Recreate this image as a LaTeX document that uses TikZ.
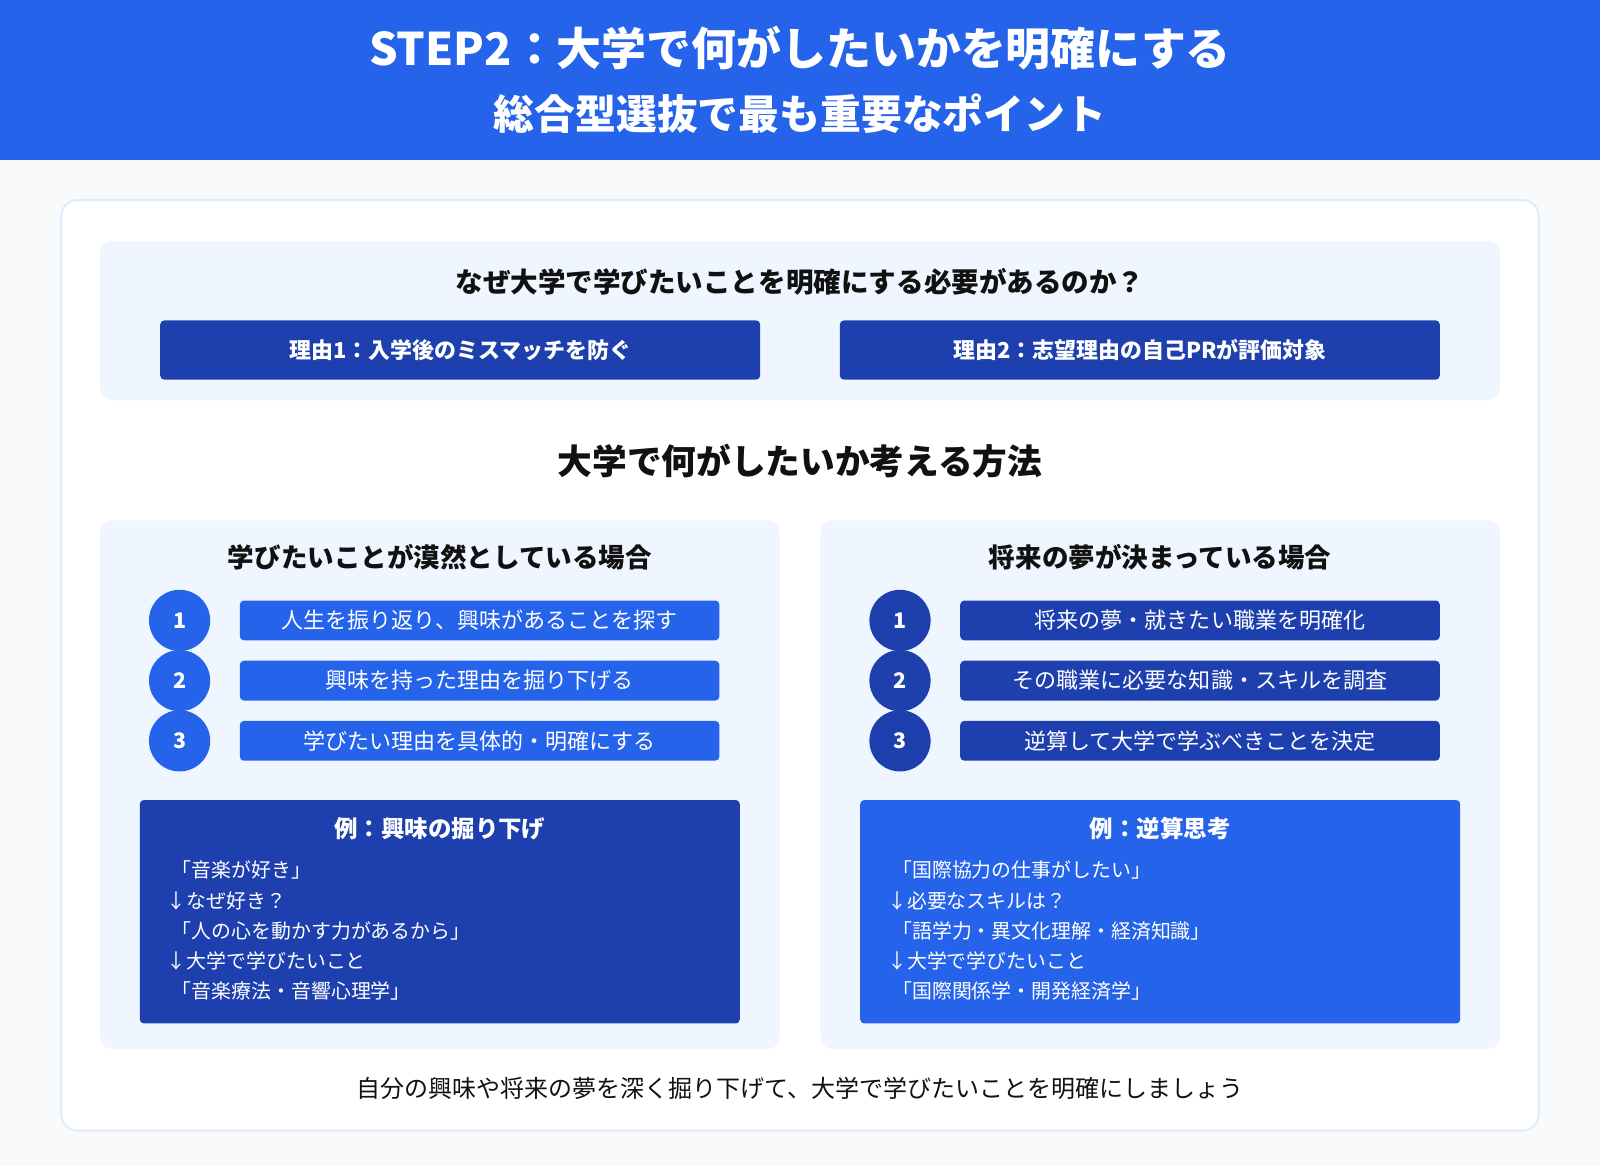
\documentclass[tikz,border=0pt]{standalone}
\usepackage{fontspec}
\setmainfont{Noto Sans CJK JP}
\definecolor{hdr}{HTML}{2563EB}
\definecolor{dk}{HTML}{1E40AF}
\definecolor{pale}{HTML}{EFF6FF}
\definecolor{bg}{HTML}{F8FAFC}
\definecolor{brd}{HTML}{E0ECFB}
\definecolor{txt}{HTML}{111111}
\tikzset{
 fs/.style={font=\fontsize{#1}{#1}\selectfont},
 fsb/.style={font=\fontsize{#1}{#1}\selectfont\bfseries},
 panel/.style={fill=pale,rounded corners=12pt,draw=none},
 bar/.style={fill=#1,rounded corners=4pt,draw=none},
 num/.style={circle,fill=#1,minimum size=60pt,inner sep=0pt,text=white,font=\fontsize{21}{21}\selectfont\bfseries},
 bartxt/.style={text=white,fs=21.6},
 ex/.style={text=white,fs=19.5,anchor=west},
}
\begin{document}
\begin{tikzpicture}[x=1pt,y=-1pt]
\useasboundingbox (0,0) rectangle (1568,1143);
\fill[bg] (0,0) rectangle (1568,1143);
\fill[hdr] (0,0) rectangle (1568,157);
\node[text=white,fsb=44] (t1) at (784,47) {STEP2：大学で何がしたいかを明確にする};
\node[text=white,fsb=40] (t2) at (784,111) {総合型選抜で最も重要なポイント};
\draw[brd,line width=2pt,fill=white,rounded corners=16pt] (60,196) rectangle (1508,1108);
% top panel
\fill[panel] (98,236) rectangle (1470,392);
\node[text=txt,fsb=27] (q) at (784,276) {なぜ大学で学びたいことを明確にする必要があるのか？};
\fill[bar=dk] (157,314) rectangle (745,372);
\node[text=white,fsb=21.5] (r1) at (451,343) {理由1：入学後のミスマッチを防ぐ};
\fill[bar=dk] (823,314) rectangle (1411,372);
\node[text=white,fsb=21.5] (r2) at (1117,343) {理由2：志望理由の自己PRが評価対象};
\node[text=txt,fsb=34] (h2) at (784,452) {大学で何がしたいか考える方法};
% left panel
\fill[panel] (98,510) rectangle (764,1028);
\node[text=txt,fsb=26] (lh) at (431,546) {学びたいことが漠然としている場合};
\foreach \y/\n/\t in {608/1/人生を振り返り、興味があることを探す,667/2/興味を持った理由を掘り下げる,726/3/学びたい理由を具体的・明確にする}{
 \node[num=hdr] (lc\n) at (176,\y) {\n};
 \fill[bar=hdr] (235,\y-19.5) rectangle (705,\y+19.5);
 \node[bartxt] (lb\n) at (470,\y) {\t};
}
\fill[bar=dk] (137,784) rectangle (725,1003);
\node[text=white,fsb=23] (lex) at (431,812) {例：興味の掘り下げ};
\node[ex] (l1) at (165,853) {「音楽が好き」};
\node[ex] (l2) at (160,883) {↓なぜ好き？};
\node[ex] (l3) at (165,912) {「人の心を動かす力があるから」};
\node[ex] (l4) at (160,942) {↓大学で学びたいこと};
\node[ex] (l5) at (165,971) {「音楽療法・音響心理学」};
% right panel
\fill[panel] (804,510) rectangle (1470,1028);
\node[text=txt,fsb=26] (rh) at (1137,546) {将来の夢が決まっている場合};
\foreach \y/\n/\t in {608/1/将来の夢・就きたい職業を明確化,667/2/その職業に必要な知識・スキルを調査,726/3/逆算して大学で学ぶべきことを決定}{
 \node[num=dk] (rc\n) at (882,\y) {\n};
 \fill[bar=dk] (941,\y-19.5) rectangle (1411,\y+19.5);
 \node[bartxt] (rb\n) at (1176,\y) {\t};
}
\fill[bar=hdr] (843,784) rectangle (1431,1003);
\node[text=white,fsb=23] (rex) at (1137,812) {例：逆算思考};
\node[ex] (m1) at (871,853) {「国際協力の仕事がしたい」};
\node[ex] (m2) at (866,883) {↓必要なスキルは？};
\node[ex] (m3) at (871,912) {「語学力・異文化理解・経済知識」};
\node[ex] (m4) at (866,942) {↓大学で学びたいこと};
\node[ex] (m5) at (871,971) {「国際関係学・開発経済学」};
\node[text=txt,fs=23.5] (ft) at (784,1067) {自分の興味や将来の夢を深く掘り下げて、大学で学びたいことを明確にしましょう};
\end{tikzpicture}
\end{document}
